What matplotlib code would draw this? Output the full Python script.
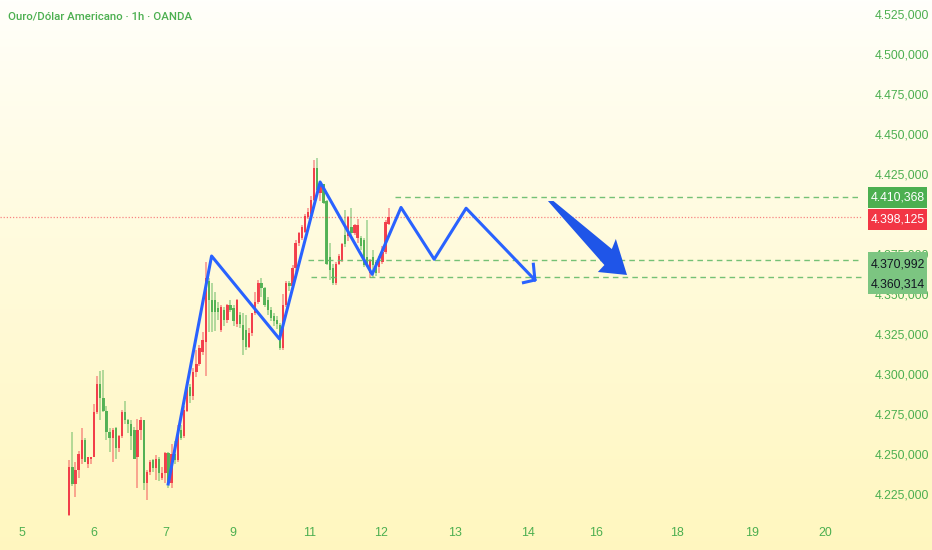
import matplotlib.pyplot as plt
import numpy as np
from matplotlib.patches import Polygon, Rectangle
from matplotlib.transforms import blended_transform_factory

plt.rcParams['font.family'] = ['Liberation Sans', 'DejaVu Sans']

# hourly candles, one per bar index
opens = [4212, 4242, 4231, 4240, 4247, 4259, 4244, 4247, 4248, 4276,
         4294, 4285, 4277, 4264, 4260, 4266, 4253.5, 4261, 4276.5, 4271,
         4269, 4265, 4248, 4265, 4271, 4231.7, 4239, 4246, 4241, 4247,
         4235, 4238, 4250.4, 4232, 4250, 4246, 4265, 4261, 4277, 4292,
         4286, 4301, 4306, 4314, 4320, 4358, 4346, 4346, 4341, 4327.5,
         4340, 4334, 4343, 4341, 4331, 4337, 4330.6, 4327.5, 4317, 4325.4,
         4338, 4345, 4356.7, 4353.5, 4346, 4340, 4336, 4334, 4330.6, 4316,
         4343, 4357, 4355, 4366, 4382, 4385, 4389, 4398, 4400, 4409,
         4429, 4413, 4419, 4408, 4373, 4366, 4357, 4369, 4371, 4387,
         4386, 4392, 4388, 4385, 4385, 4384, 4373, 4363, 4373, 4370,
         4367, 4370, 4376.5, 4394]
highs = [4246, 4264, 4245, 4252, 4266, 4260, 4248, 4248, 4281, 4299,
         4302, 4302.5, 4280, 4266, 4266, 4267, 4262, 4277.5, 4283, 4272,
         4271, 4267, 4272, 4273.4, 4271, 4240, 4246, 4247, 4249.4, 4248,
         4242, 4251.5, 4251.5, 4256, 4258, 4268, 4268, 4280, 4294, 4294,
         4304, 4315, 4318, 4326, 4370, 4360, 4357, 4351, 4345, 4343,
         4342, 4344, 4346, 4343, 4347, 4339, 4338, 4337, 4328.5, 4338,
         4351.5, 4359, 4360, 4354.6, 4348.3, 4342, 4338, 4336, 4332, 4350,
         4358, 4358, 4368, 4384, 4389, 4393, 4400, 4404, 4411, 4434,
         4435, 4420, 4419, 4409, 4381.7, 4369, 4370, 4375, 4382, 4402.5,
         4399, 4404, 4394, 4397, 4386, 4385, 4396, 4372, 4377.5, 4371,
         4374, 4380, 4396, 4404]
lows = [4211, 4230, 4223, 4235, 4244, 4245, 4241, 4244, 4248, 4275,
        4271, 4276, 4259, 4251, 4245, 4247, 4251.5, 4260, 4269, 4263,
        4252.5, 4247, 4228.6, 4259, 4227.5, 4221.3, 4237, 4239, 4234, 4233,
        4234, 4231.7, 4228.6, 4229, 4244, 4245, 4259, 4260, 4276, 4282,
        4284, 4298, 4305, 4312, 4299, 4326.5, 4326.5, 4327, 4334, 4326,
        4330, 4332, 4339, 4330, 4329.6, 4329, 4311.9, 4315, 4316, 4324,
        4337, 4344, 4348, 4342, 4337, 4333, 4330, 4328, 4315, 4315,
        4342, 4352, 4353, 4364, 4380, 4384, 4388, 4397, 4399, 4408,
        4413, 4408, 4406, 4368, 4358.75, 4355.6, 4355.6, 4368, 4370, 4379.6,
        4383, 4385, 4387, 4382, 4377.5, 4367, 4368, 4360, 4360, 4361,
        4363, 4369, 4375, 4393]
closes = [4242, 4231, 4240, 4250, 4259, 4245, 4248, 4248, 4276.5, 4294,
          4285, 4277, 4264, 4260, 4265, 4253.5, 4261, 4276.5, 4271, 4269,
          4261, 4247, 4265, 4271, 4231.7, 4239, 4245, 4241, 4246.7, 4238,
          4238, 4250.4, 4231.7, 4250, 4246, 4265, 4260, 4277.5, 4292, 4286,
          4301.5, 4306, 4316, 4321, 4360, 4346, 4339, 4339, 4339, 4342,
          4334, 4343, 4340, 4333, 4346, 4331, 4321.3, 4317, 4325.4, 4338,
          4345, 4356.7, 4353.5, 4343, 4340, 4335, 4333, 4331, 4316, 4343,
          4357, 4355, 4366, 4382, 4388, 4392, 4399, 4401.5, 4409, 4429,
          4415, 4419, 4407, 4369, 4365, 4357, 4369, 4374, 4381, 4381,
          4398, 4388, 4393, 4393, 4380, 4368, 4368, 4371, 4368, 4363,
          4373, 4376.5, 4395, 4398.125]

day_ticks = [-15.3, 8.0, 31.2, 52.8, 77.6, 100.5, 124.4, 148.0, 169.9, 196.0, 220.2, 244.0]
day_labels = ['5', '6', '7', '9', '11', '12', '13', '14', '16', '18', '19', '20']
price_ticks = np.arange(4225, 4526, 25)

# drawings
zigzag_x = [31.9, 45.9, 67.8, 80.9, 97.7, 107.0, 117.7, 128.0, 150.2]
zigzag_y = [4231.25, 4373.75, 4321.9, 4420.0, 4362.3, 4404.1, 4371.7, 4403.6, 4358.75]
head_x = [146.5, 150.2, 149.7]
head_y = [4357.1, 4358.75, 4368.6]
big_arrow_x = [154.4, 156.2, 175.0, 176.3, 179.9, 170.5, 172.6]
big_arrow_y = [4408.1, 4408.1, 4378.1, 4384.4, 4361.9, 4363.75, 4368.1]

levels = [4410.368, 4370.992, 4360.314]
level_start = [105.0, 77.0, 78.0]
last_price = 4398.125

RED = '#f23645'
GREEN = '#4caf50'
BLUE = '#2962ff'
TXT = '#4caf50'


def fmt(v):
    s = f"{v:,.3f}"
    return s.replace(',', '#').replace('.', ',').replace('#', '.')


fig = plt.figure(figsize=(9.32, 5.5), dpi=100)

# background gradient
t = np.linspace(0, 1, 300)[:, None]
top = np.array([1.0, 1.0, 0.985])
bot = np.array([1.0, 0.968, 0.75])
grad = top + (bot - top) * t[..., None] ** 0.85
grad = np.repeat(grad, 2, axis=1)
bg = fig.add_axes([0, 0, 1, 1], zorder=0)
bg.imshow(grad, aspect='auto', extent=[0, 1, 0, 1])
bg.axis('off')

ax = fig.add_axes([0, 30 / 550, 862 / 932, 520 / 550], zorder=1)
ax.patch.set_alpha(0)
ax.set_xlim(-22.35, 255.7)
ax.set_ylim(4208.75, 4533.75)

o = np.array(opens)
c = np.array(closes)
h = np.array(highs)
l = np.array(lows)
idx = np.arange(len(o))
cols = np.where(c >= o, RED, GREEN)
ax.vlines(idx, l, h, colors=cols, alpha=0.5, lw=1.2)
body_bot = np.minimum(o, c)
body_h = np.maximum(np.abs(c - o), 0.8)
ax.bar(idx, body_h, bottom=body_bot, width=0.72, color=cols, alpha=0.92, linewidth=0)

# levels
for lv, st in zip(levels, level_start):
    ax.plot([st, 255.7], [lv, lv], color='#66bb6a', lw=1, ls=(0, (4, 3)), alpha=0.9)
ax.axhline(last_price, color=RED, lw=0.9, ls=(0, (1, 1.5)), alpha=0.6)

ax.plot(zigzag_x, zigzag_y, color=BLUE, lw=2.2, zorder=4)
ax.plot(head_x, head_y, color=BLUE, lw=2.2, zorder=4)
ax.add_patch(Polygon(np.column_stack([big_arrow_x, big_arrow_y]), closed=True,
                     facecolor='#1f55e8', edgecolor='none', zorder=4))

for s in ax.spines.values():
    s.set_visible(False)
ax.yaxis.tick_right()
ax.set_yticks(price_ticks)
# 4.400,000 sits under the price labels, so it is not shown
ax.set_yticklabels(['' if v == 4400 else fmt(v) for v in price_ticks])
ax.set_xticks(day_ticks)
ax.set_xticklabels(day_labels)
ax.tick_params(axis='y', length=0, pad=9.4, labelsize=8.7, labelcolor=TXT)
ax.tick_params(axis='x', length=0, pad=5, labelsize=8.9, labelcolor=TXT)

# price labels on the scale
tr = blended_transform_factory(ax.transAxes, ax.transData)
bx0 = 867.7 / 862
bw = 59.6 / 862
ax.add_patch(Rectangle((bx0, levels[0] - 6.6), bw, 13.2, transform=tr, clip_on=False,
                       facecolor=GREEN, edgecolor='none', zorder=6))
ax.text(bx0 + bw / 2, levels[0], fmt(levels[0]), transform=tr, ha='center', va='center',
        color='white', fontsize=8.8, zorder=7, clip_on=False)
ax.add_patch(Rectangle((bx0, last_price - 8.1), bw, 13.1, transform=tr, clip_on=False,
                       facecolor=RED, edgecolor='none', zorder=6))
ax.text(bx0 + bw / 2, last_price - 1.5, fmt(last_price), transform=tr, ha='center', va='center',
        color='white', fontsize=8.8, zorder=7, clip_on=False)
ax.add_patch(Rectangle((bx0, levels[2] - 10.3), bw, 26.4, transform=tr, clip_on=False,
                       facecolor='#7cc581', edgecolor='none', zorder=6))
ax.text(bx0 + bw / 2, levels[1] - 2.4, fmt(levels[1]), transform=tr, ha='center', va='center',
        color='#131722', fontsize=8.8, zorder=7, clip_on=False)
ax.text(bx0 + bw / 2, levels[2] - 4.2, fmt(levels[2]), transform=tr, ha='center', va='center',
        color='#131722', fontsize=8.8, zorder=7, clip_on=False)

fig.text(8 / 932, 1 - 17 / 550, 'Ouro/Dólar Americano · 1h · OANDA', color=TXT,
         fontsize=8.2, fontweight='medium', va='center', ha='left',
         family=['Roboto', 'Liberation Sans', 'DejaVu Sans'])

fig.savefig('out.png', dpi=100)
